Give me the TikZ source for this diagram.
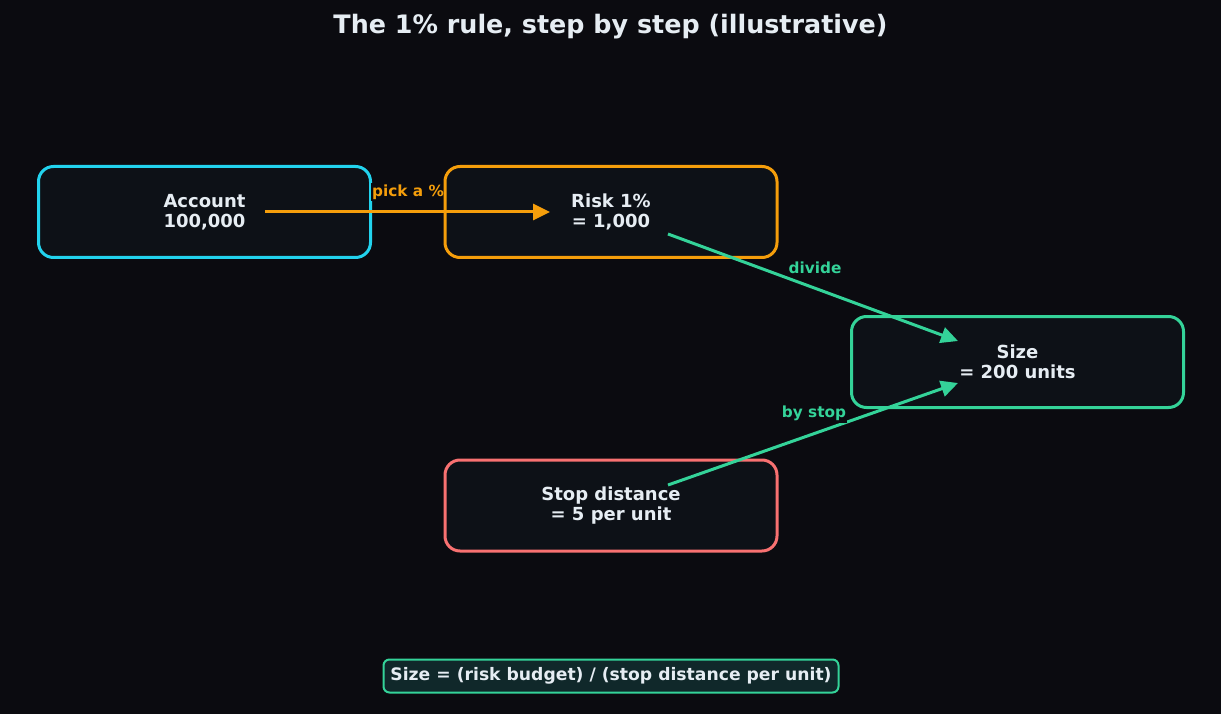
\documentclass[tikz,border=0pt]{standalone}
\usepackage{fontspec}
\setmainfont{DejaVu Sans}
\usetikzlibrary{arrows.meta,calc}
\definecolor{bg}{HTML}{0B0B10}
\definecolor{boxfill}{HTML}{0D1117}
\definecolor{txt}{HTML}{E6EDF3}
\definecolor{ccyan}{HTML}{22D3EE}
\definecolor{corange}{HTML}{F59E0B}
\definecolor{cgreen}{HTML}{34D399}
\definecolor{cred}{HTML}{F87171}
\definecolor{fbox}{HTML}{10282A}
\tikzset{
  stepbox/.style={draw, line width=3pt, rounded corners=15pt, fill=boxfill,
    minimum width=332pt, minimum height=91pt, align=center, text=txt,
    font=\fontsize{18}{20.5}\selectfont\bfseries},
  conn/.style={line width=3pt, -{Triangle[length=17pt,width=16pt]}},
  lbl/.style={fill=bg, inner xsep=0.8pt, inner ysep=2pt, font=\fontsize{15.3}{16}\selectfont\bfseries},
}
\begin{document}
\begin{tikzpicture}[x=1pt,y=-1pt]
\fill[bg] (0,0) rectangle (1221,714);
\useasboundingbox (0,0) rectangle (1221,714);
\node[text=txt, font=\fontsize{25.4}{28}\selectfont\bfseries] (title) at (610.5,26.5) {The 1\% rule, step by step (illustrative)};
\node[stepbox, draw=ccyan] (acc) at (204.5,212) {Account\\100,000};
\node[lbl, text=corange] (l1) at (408,192) {pick a \%};
\node[stepbox, draw=corange] (risk) at (611,212) {Risk 1\%\\= 1,000};
\node[stepbox, draw=cgreen] (size) at (1017.5,362) {Size\\= 200 units};
\node[stepbox, draw=cred] (stop) at (611,505.5) {Stop distance\\= 5 per unit};
\draw[conn, corange] ($(acc.center)+(60.5,0)$) -- ($(risk.center)+(-61,0)$);
\draw[conn, cgreen] ($(risk.center)+(57,22)$) -- ($(size.center)+(-59.5,-21)$);
\draw[conn, cgreen] ($(stop.center)+(57,-20.5)$) -- ($(size.center)+(-59.5,21)$);
\node[lbl, text=cgreen] (l2) at (815,267.5) {divide};
\node[lbl, text=cgreen] (l3) at (814,413.5) {by stop};
\node[draw=cgreen, line width=2pt, rounded corners=6pt, fill=fbox, text=txt,
  minimum width=455pt, minimum height=33pt, inner sep=3pt,
  font=\fontsize{17.2}{18}\selectfont\bfseries] (formula) at (611,676)
  {Size = (risk budget) / (stop distance per unit)};
\end{tikzpicture}
\end{document}
